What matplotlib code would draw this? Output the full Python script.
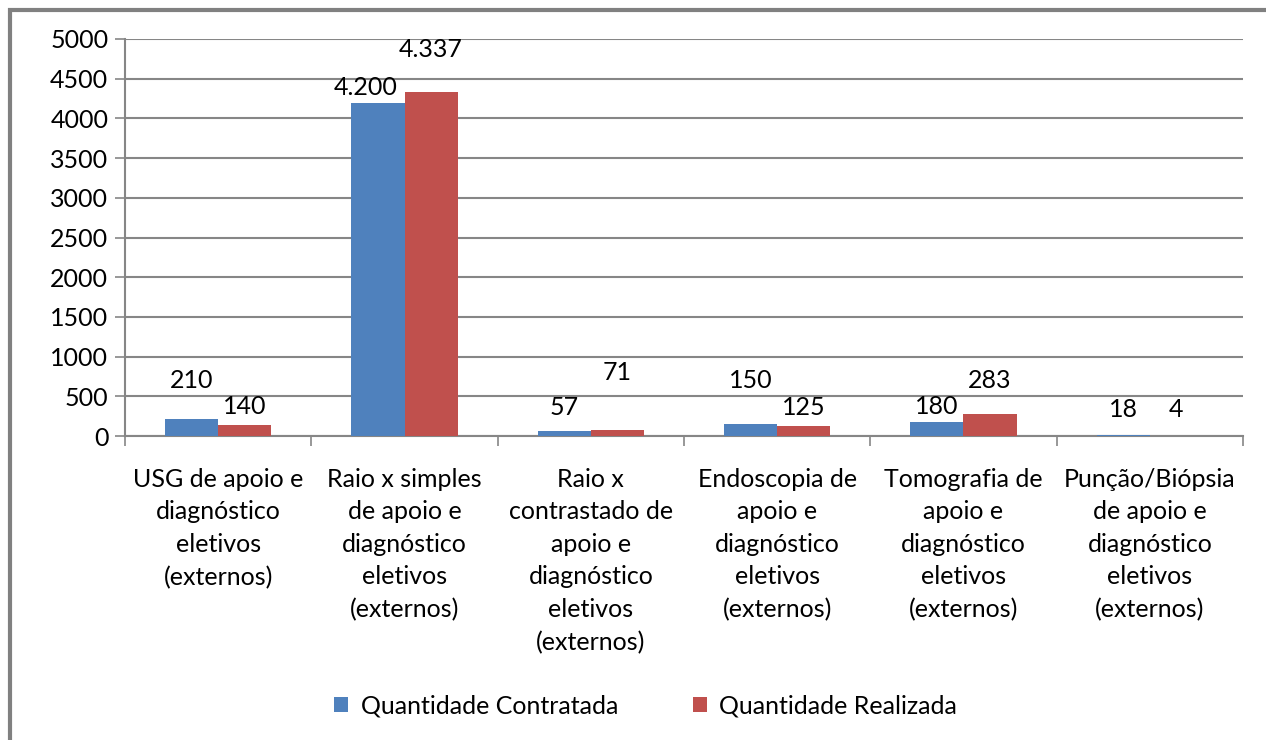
import matplotlib.pyplot as plt
import numpy as np
from matplotlib.patches import Rectangle

plt.rcParams['font.family'] = ['Lato', 'DejaVu Sans']

categorias = [
    "USG de apoio e\ndiagnóstico\neletivos\n(externos)",
    "Raio x simples\nde apoio e\ndiagnóstico\neletivos\n(externos)",
    "Raio x\ncontrastado de\napoio e\ndiagnóstico\neletivos\n(externos)",
    "Endoscopia de\napoio e\ndiagnóstico\neletivos\n(externos)",
    "Tomografia de\napoio e\ndiagnóstico\neletivos\n(externos)",
    "Punção/Biópsia\nde apoio e\ndiagnóstico\neletivos\n(externos)",
]
contratada = [210, 4200, 57, 150, 180, 18]
realizada = [140, 4337, 71, 125, 283, 4]
yticks = [0, 500, 1000, 1500, 2000, 2500, 3000, 3500, 4000, 4500, 5000]

# label offsets above the bar tops (pixels), as placed in the original chart
off_contratada = [39, 15, 24, 44, 15, 25]
off_realizada = [18, 42, 58, 19, 33, 26]
dx_contratada = [0, -12, 0, 0, 0, 0]

azul = "#4F81BD"
vermelho = "#C0504D"
cinza = "#868686"
fs = 18

fig = plt.figure(figsize=(12.66, 7.4), dpi=100)
ax = fig.add_axes([125 / 1266, 1 - 436 / 740, (1243 - 125) / 1266, (436 - 39) / 740])

# grey frame of the chart area (cut at right and bottom)
fig.patches.append(Rectangle((10 / 1266, -0.1), 1.2, 1.1 - 10 / 740,
                             transform=fig.transFigure, fill=False,
                             edgecolor="#808080", linewidth=3))

x = np.arange(len(categorias))
w = 1 / 3.5
b1 = ax.bar(x - w / 2, contratada, w, color=azul, label="Quantidade Contratada", zorder=3)
b2 = ax.bar(x + w / 2, realizada, w, color=vermelho, label="Quantidade Realizada", zorder=3)

def fmt(v):
    return f"{v:,}".replace(",", ".")

for i in range(len(x)):
    ax.annotate(fmt(contratada[i]), (x[i] - w / 2, contratada[i]),
                xytext=(dx_contratada[i] * 0.72, off_contratada[i] * 0.72),
                textcoords="offset points", ha="center", va="center", fontsize=fs)
    ax.annotate(fmt(realizada[i]), (x[i] + w / 2, realizada[i]),
                xytext=(0, off_realizada[i] * 0.72),
                textcoords="offset points", ha="center", va="center", fontsize=fs)

ax.set_xlim(-0.5, len(x) - 0.5)
ax.set_ylim(0, 5000)
ax.set_yticks(yticks)
ax.yaxis.grid(True, color=cinza, linewidth=1.5, zorder=0)
ax.tick_params(axis="y", labelsize=fs, length=7, width=1.2, color=cinza, pad=5)

ax.set_xticks(np.arange(len(x) + 1) - 0.5)
ax.set_xticklabels([])
ax.set_xticks(x, minor=True)
ax.set_xticklabels(categorias, minor=True, fontsize=fs, linespacing=1.5, va="top")
ax.tick_params(axis="x", which="major", length=7, width=1.2, color=cinza)
ax.tick_params(axis="x", which="minor", length=0, pad=23)

for s in ["top", "right"]:
    ax.spines[s].set_visible(False)
for s in ["left", "bottom"]:
    ax.spines[s].set_color(cinza)
    ax.spines[s].set_linewidth(1.5)

fig.legend(handles=[b1, b2], loc="center", bbox_to_anchor=(0.51, 1 - 706 / 740),
           ncol=2, frameon=False, fontsize=fs, handlelength=0.55, handleheight=0.55,
           handletextpad=0.5, columnspacing=3.0)

fig.savefig("out.png", dpi=100)
